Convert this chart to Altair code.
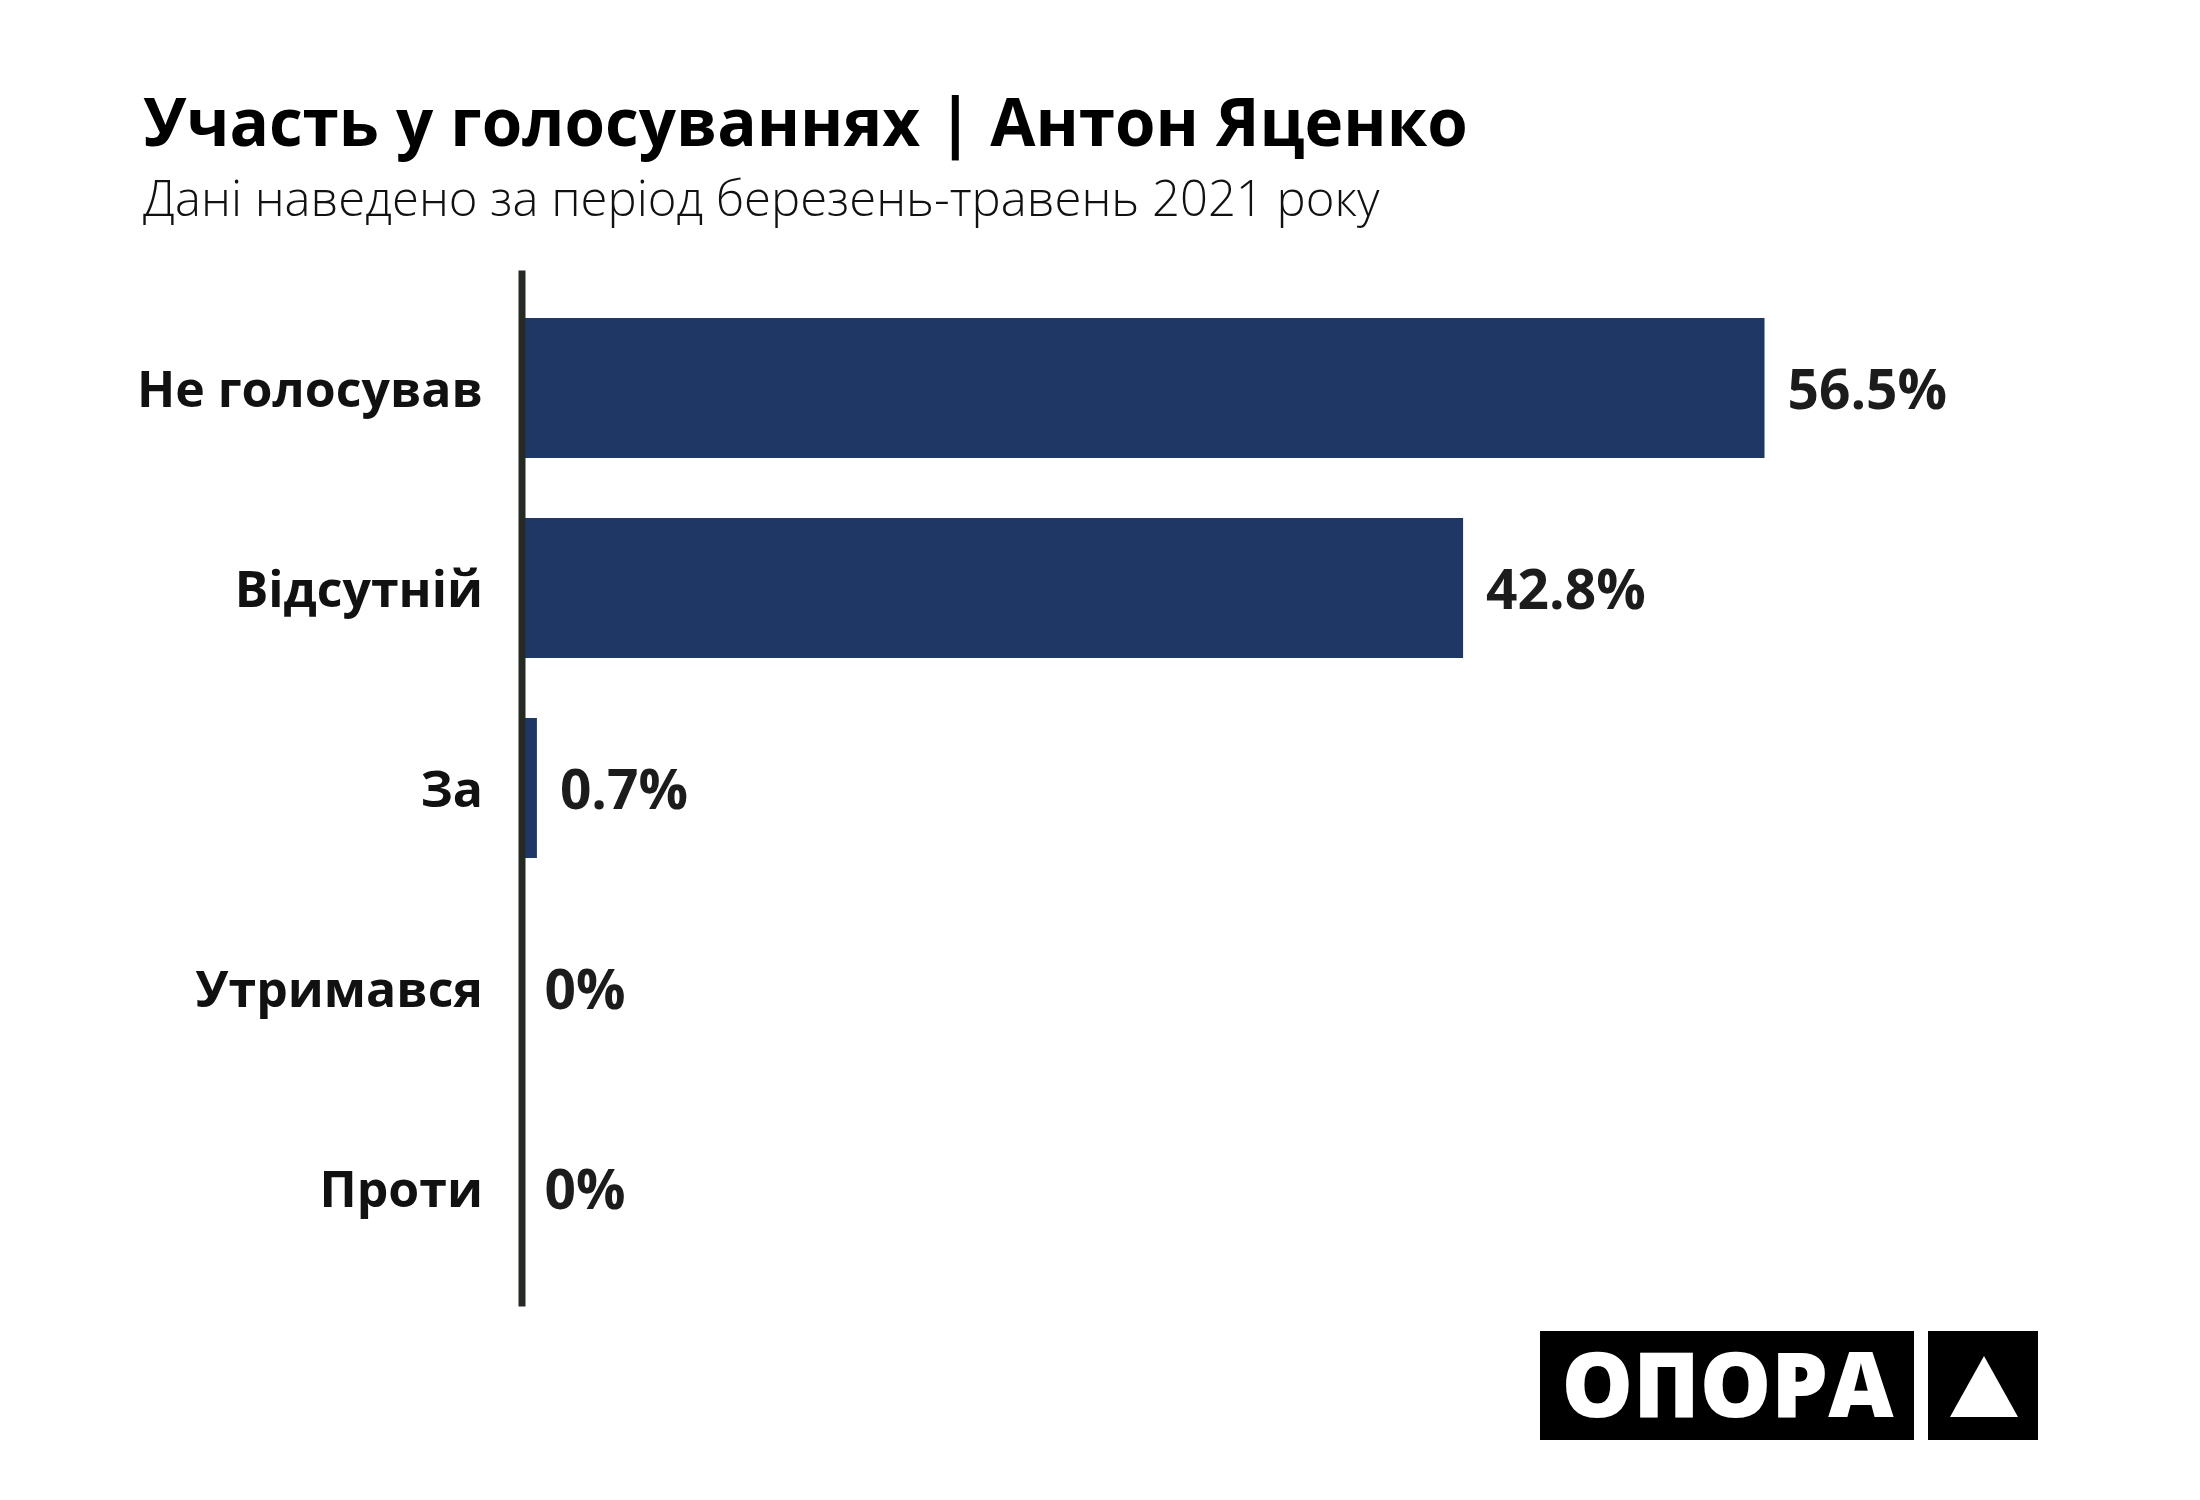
import altair as alt
import pandas as pd

categories = ["Не голосував", "Відсутній", "За", "Утримався", "Проти"]
values = [56.5, 42.8, 0.7, 0, 0]
value_labels = ["56.5%", "42.8%", "0.7%", "0%", "0%"]
title_text = "Участь у голосуваннях | Антон Яценко"
subtitle_text = "Дані наведено за період березень-травень 2021 року"
logo_text = ["ОПОРА"]

df = pd.DataFrame({"cat": categories, "val": values, "lab": value_labels})
logo_df = pd.DataFrame({"logo": logo_text})

FONT = "Open Sans"
BAR = "#1f3765"

y_enc = alt.Y(
    "cat:N",
    sort=categories,
    title=None,
    scale=alt.Scale(paddingInner=0.3, paddingOuter=0.24),
    axis=alt.Axis(
        ticks=False,
        labelPadding=39,
        labelOffset=4,
        labelLimit=800,
        labelFont=FONT,
        labelFontSize=50,
        labelFontWeight="bold",
        labelColor="#111111",
        domainColor="#262a24",
        domainWidth=7,
        zindex=1,
        grid=False,
    ),
)
x_enc = alt.X("val:Q", axis=None, scale=alt.Scale(domain=[0, 70]))

bars = alt.Chart(df).mark_bar(color=BAR).encode(x=x_enc, y=y_enc)
texts = alt.Chart(df).mark_text(
    align="left", baseline="middle", dx=23, dy=4, font=FONT, fontSize=55,
    fontWeight="bold", color="#1c1c1c"
).encode(x=x_enc, y=y_enc, text="lab:N")

box1 = alt.Chart(logo_df).mark_rect(color="#000000").encode(
    x=alt.value(1018.5), x2=alt.value(1392.5), y=alt.value(1061), y2=alt.value(1170)
)
box2 = alt.Chart(logo_df).mark_rect(color="#000000").encode(
    x=alt.value(1406.5), x2=alt.value(1516.5), y=alt.value(1061), y2=alt.value(1170)
)
logo = alt.Chart(logo_df).mark_text(
    align="center", baseline="alphabetic", font=FONT, fontSize=90,
    fontWeight=800, color="#ffffff"
).encode(x=alt.value(1206), y=alt.value(1147), text="logo:N")
tri = alt.Chart(logo_df).mark_point(
    shape="M0,-0.9L1,0.9L-1,0.9Z", filled=True, color="#ffffff", opacity=1, size=4624
).encode(x=alt.value(1462.5), y=alt.value(1116.5))

chart = alt.layer(bars, texts, box1, box2, logo, tri).properties(
    width=1540,
    height=1036,
    background="#ffffff",
    autosize=alt.AutoSizeParams(type="none"),
    padding={"left": 513.5, "top": 262, "right": 120, "bottom": 180},
    title=alt.TitleParams(
        text=title_text,
        subtitle=subtitle_text,
        anchor="start",
        frame="group",
        dx=-378.5,
        offset=44,
        font=FONT,
        fontSize=65.5,
        fontWeight="bold",
        color="#000000",
        subtitleFont=FONT,
        subtitleFontSize=49,
        subtitleFontWeight=300,
        subtitleColor="#111111",
        subtitlePadding=18,
    ),
).configure_view(stroke="transparent", strokeWidth=0)

chart.save("out.html", embed_options={"renderer": "svg", "actions": False})
